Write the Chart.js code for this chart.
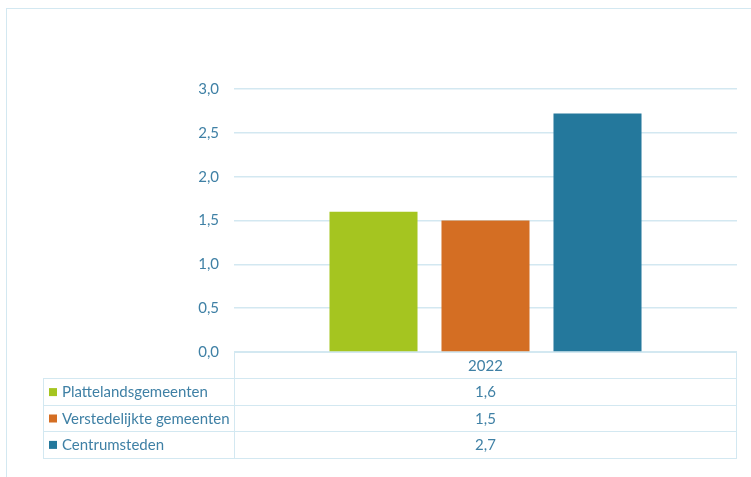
<!DOCTYPE html>
<html>
<head>
<meta charset="utf-8">
<script src="https://cdn.jsdelivr.net/npm/chart.js@4"></script>
<style>
  html, body { margin: 0; padding: 0; background: #fff; }
  #wrap { position: relative; width: 751px; height: 477px; }
  #frame { position: absolute; left: 6px; top: 8px; width: 760px; height: 480px;
           border-left: 1px solid #d3e8f1; border-top: 1px solid #d3e8f1; }
  canvas { position: absolute; left: 0; top: 0; }
</style>
</head>
<body>
<div id="wrap">
  <div id="frame"></div>
  <canvas id="chart" width="751" height="477"></canvas>
</div>
<script>
const categories = ['2022'];
const seriesNames = ['Plattelandsgemeenten', 'Verstedelijkte gemeenten', 'Centrumsteden'];
const seriesValues = [[1.6], [1.5], [2.72]];
const seriesColors = ['#a5c520', '#d46e23', '#24789c'];
const yTicks = [0, 0.5, 1, 1.5, 2, 2.5, 3];

const textColor = '#3f80a5';
const lineColor = '#d3e8f1';
const fontFamily = 'Lato, "Open Sans", sans-serif';
const fontSize = 15;

function fmt(v, d) {
    return v.toFixed(d).replace('.', ',');
}

// data table under the plot, like Excel's "data table with legend keys"
const dataTable = {
    id: 'dataTable',
    afterDraw(chart) {
        const ctx = chart.ctx;
        const area = chart.chartArea;
        const rowH = 26.4;
        const leftX = 43;
        const top = area.bottom;
        const rows = seriesNames.length;

        ctx.save();
        ctx.strokeStyle = lineColor;
        ctx.lineWidth = 1;
        ctx.beginPath();
        // header row (only over the plot columns)
        ctx.moveTo(area.left, top + 0.5);
        ctx.lineTo(area.right, top + 0.5);
        for (let r = 1; r <= rows + 1; r++) {
            const y = Math.round(top + r * rowH) + 0.5;
            ctx.moveTo(leftX, y);
            ctx.lineTo(area.right, y);
        }
        const bottom = Math.round(top + (rows + 1) * rowH) + 0.5;
        ctx.moveTo(Math.round(area.left) + 0.5, top);
        ctx.lineTo(Math.round(area.left) + 0.5, bottom);
        ctx.moveTo(Math.round(area.right) - 0.5, top);
        ctx.lineTo(Math.round(area.right) - 0.5, bottom);
        ctx.moveTo(leftX + 0.5, Math.round(top + rowH));
        ctx.lineTo(leftX + 0.5, bottom);
        ctx.stroke();

        ctx.font = fontSize + 'px ' + fontFamily;
        ctx.fillStyle = textColor;
        ctx.textBaseline = 'middle';
        ctx.textAlign = 'center';
        categories.forEach((c, i) => {
            ctx.fillText(c, (area.left + area.right) / 2, top + rowH / 2 + 1);
        });

        seriesNames.forEach((name, r) => {
            const cy = top + (r + 1) * rowH + rowH / 2 + 1;
            ctx.fillStyle = seriesColors[r];
            ctx.fillRect(49, cy - 4.5, 8, 8);
            ctx.fillStyle = textColor;
            ctx.textAlign = 'left';
            ctx.fillText(name, 62, cy);
            ctx.textAlign = 'center';
            categories.forEach((c, i) => {
                ctx.fillText(fmt(seriesValues[r][i], 1), (area.left + area.right) / 2, cy);
            });
        });
        ctx.restore();
    }
};

new Chart(document.getElementById('chart'), {
    type: 'bar',
    data: {
        labels: categories,
        datasets: seriesNames.map((name, i) => ({
            label: name,
            data: seriesValues[i],
            backgroundColor: seriesColors[i],
            categoryPercentage: 0.668,
            barPercentage: 0.786
        }))
    },
    options: {
        responsive: false,
        animation: false,
        layout: {
            padding: { top: 89, right: 14, bottom: 125, left: 0 }
        },
        plugins: {
            legend: { display: false },
            tooltip: { enabled: false },
            title: { display: false }
        },
        scales: {
            x: {
                display: false
            },
            y: {
                min: 0,
                max: 3,
                afterFit(scale) { scale.width = 234; },
                afterBuildTicks(scale) { scale.ticks = yTicks.map(v => ({ value: v })); },
                ticks: {
                    padding: 15,
                    color: textColor,
                    font: { family: fontFamily, size: fontSize },
                    callback: v => fmt(v, 1)
                },
                grid: {
                    color: lineColor,
                    lineWidth: 1.5,
                    drawTicks: false
                },
                border: { display: false }
            }
        }
    },
    plugins: [dataTable]
});
</script>
</body>
</html>
